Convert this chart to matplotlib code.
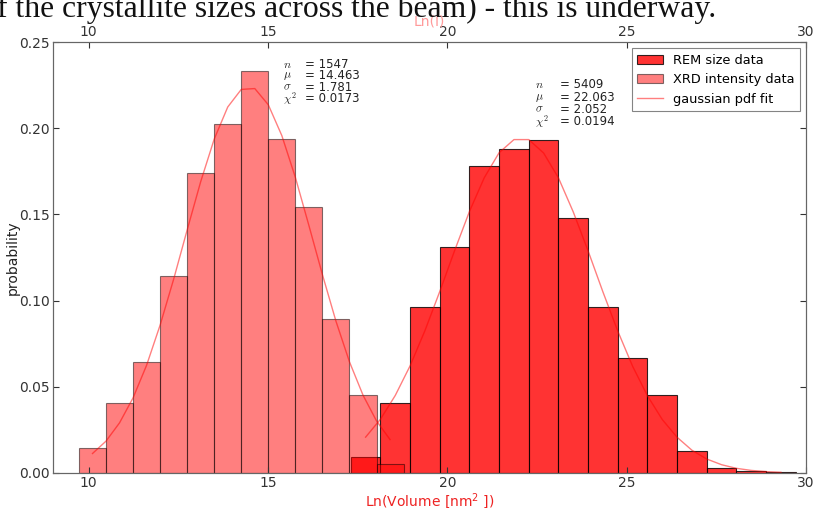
import numpy as np
import matplotlib
matplotlib.use("Agg")
import matplotlib.pyplot as plt

# REM size data : density histogram over Ln(Volume)
rem_edges = [17.310, 18.137, 18.964, 19.791, 20.618, 21.445, 22.272, 23.099,
             23.926, 24.753, 25.580, 26.407, 27.234, 28.061, 28.888, 29.715]
rem_density = [0.0095, 0.0404, 0.0965, 0.1309, 0.1781, 0.1879, 0.1931, 0.1481,
               0.0965, 0.0665, 0.0452, 0.0128, 0.0027, 0.0012, 0.0005]

# XRD intensity data : density histogram over Ln(I)
xrd_edges = [9.733, 10.487, 11.241, 11.995, 12.749, 13.503, 14.257,
             15.011, 15.765, 16.519, 17.273, 18.027, 18.781]
xrd_density = [0.0147, 0.0404, 0.0646, 0.1144, 0.1738, 0.2023, 0.2332,
               0.1936, 0.1543, 0.0895, 0.0454, 0.0050]

# gaussian pdf fit, read every half bin (bin centres and inner bin edges)
rem_fit = [0.0208, 0.0312, 0.0450, 0.0622, 0.0826, 0.1053, 0.1290, 0.1517,
           0.1713, 0.1858, 0.1934, 0.1934, 0.1856, 0.1712, 0.1514, 0.1288,
           0.1050, 0.0823, 0.0619, 0.0448, 0.0310, 0.0207, 0.0132, 0.0081,
           0.0048, 0.0027, 0.0015, 0.0008, 0.0004]
xrd_fit = [0.0113, 0.0185, 0.0291, 0.0436, 0.0625, 0.0858, 0.1124, 0.1410,
           0.1690, 0.1937, 0.2123, 0.2225, 0.2230, 0.2136, 0.1957, 0.1715,
           0.1436, 0.1151, 0.0881, 0.0645, 0.0452, 0.0302, 0.0194]

stat_names = [r'$n$', r'$\mu$', r'$\sigma$', r'$\chi^2$']
rem_stats = ['5409', '22.063', '2.052', '0.0194']
xrd_stats = ['1547', '14.463', '1.781', '0.0173']

rem_edges = np.array(rem_edges)
xrd_edges = np.array(xrd_edges)
rem_fit_x = np.sort(np.concatenate([(rem_edges[:-1] + rem_edges[1:]) / 2, rem_edges[1:-1]]))
xrd_fit_x = np.sort(np.concatenate([(xrd_edges[:-1] + xrd_edges[1:]) / 2, xrd_edges[1:-1]]))

fig = plt.figure(figsize=(8.13, 5.08), dpi=100)
ax = fig.add_axes([0.0648, 0.0689, 0.9266, 0.8484])

# text of the page the figure was cut from
fig.text(-0.004, 1 - 17 / 508, 'f the crystallite sizes across the beam) - this is underway.',
         family='Liberation Serif', fontsize=22.8, color='#111111', va='baseline', ha='left')

rem_bars = ax.bar(rem_edges[:-1], rem_density, width=np.diff(rem_edges), align='edge',
                  color='red', alpha=0.8, edgecolor='black', linewidth=0.8,
                  label='REM size data')
xrd_bars = ax.bar(xrd_edges[:-1], xrd_density, width=np.diff(xrd_edges), align='edge',
                  color='red', alpha=0.5, edgecolor='black', linewidth=0.8,
                  label='XRD intensity data')
fit_line, = ax.plot(rem_fit_x, rem_fit, color='red', alpha=0.5, lw=1,
                    label='gaussian pdf fit')
ax.plot(xrd_fit_x, xrd_fit, color='red', alpha=0.5, lw=1)

# fit statistics
for i in range(4):
    ax.text(15.415, 0.2372 - i * 0.0067, stat_names[i], fontsize=8.5, va='center',
            math_fontfamily='cm', color='#222222')
    ax.text(16.03, 0.2372 - i * 0.0067, '= ' + xrd_stats[i], fontsize=8.5, va='center',
            color='#222222')
    ax.text(22.434, 0.2251 - i * 0.0070, stat_names[i], fontsize=8.5, va='center',
            math_fontfamily='cm', color='#222222')
    ax.text(23.13, 0.2251 - i * 0.0070, '= ' + rem_stats[i], fontsize=8.5, va='center',
            color='#222222')

ax.set_xlim(9, 30)
ax.set_ylim(0, 0.25)
ax.set_xticks([10, 15, 20, 25, 30])
ax.set_yticks([0, 0.05, 0.10, 0.15, 0.20, 0.25])
ax.yaxis.set_major_formatter(matplotlib.ticker.FormatStrFormatter('%.2f'))
ax.tick_params(direction='in', right=True, labelsize=10, colors='#333333', length=4, pad=2)
ax.set_xlabel('Ln(Volume [nm$^2$ ])', color='#ee2222', fontsize=10, labelpad=1)
ax.set_ylabel('probability', color='#222222', fontsize=10)
ax.yaxis.set_label_coords(-0.044, 0.5)

ax2 = ax.twiny()
ax2.set_xlim(9, 30)
ax2.set_xticks([10, 15, 20, 25, 30])
ax2.tick_params(direction='in', labelsize=10, colors='#333333', length=4, pad=2)
ax2.set_xlabel('Ln(I)', color='#ff9a9a', fontsize=10, labelpad=0)

for a in (ax, ax2):
    for s in a.spines.values():
        s.set_color('#666666')

leg = ax.legend(handles=[rem_bars, xrd_bars, fit_line], loc='upper right', fontsize=9.3,
                fancybox=False, edgecolor='#666666', labelspacing=0.5)
leg.get_frame().set_linewidth(0.8)

fig.savefig('out.png', dpi=100)
